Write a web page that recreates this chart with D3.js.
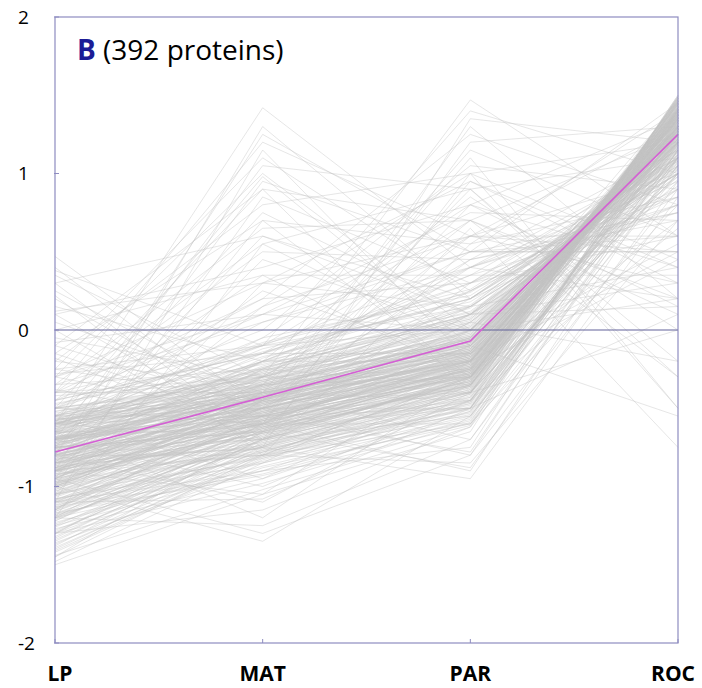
<!DOCTYPE html>
<html>
<head>
<meta charset="utf-8">
<script src="https://cdn.jsdelivr.net/npm/d3@7"></script>
<style>
  html, body { margin: 0; padding: 0; background: #ffffff; }
  svg { display: block; }
</style>
</head>
<body>
<div id="chart"></div>
<script>
// ---- data ----
const categories = ["LP", "MAT", "PAR", "ROC"];
const yTicks = [-2, -1, 0, 1, 2];
const titleLetter = "B";
const titleText = " (392 proteins)";
// mean profile (magenta)
const meanProfile = [-0.78, -0.43, -0.07, 1.25];
// individual protein profiles: [LP, MAT, PAR, ROC]
const profiles = [
[-.62,-.41,-.12,1.31],[-.85,-.52,-.2,1.38],[-1.1,-.63,-.31,1.42],[-.74,-.35,-.05,1.27],[-.55,-.3,.02,1.22],
[-.93,-.58,-.25,1.4],[-1.32,-.72,-.38,1.45],[-.68,-.44,-.15,1.35],[-.81,-.39,-.08,1.3],[-1.02,-.55,-.22,1.44],
[-.47,-.22,.08,1.18],[-.77,-.61,-.33,1.36],[-1.21,-.66,-.27,1.47],[-.59,-.48,-.18,1.25],[-.88,-.43,-.1,1.33],
[-1.45,-.8,-.42,1.49],[-.71,-.37,0,1.21],[-.96,-.5,-.17,1.39],[-.64,-.27,.05,1.15],[-1.15,-.7,-.35,1.43],
[-.83,-.46,-.28,1.41],[-.52,-.36,-.09,1.2],[-1.05,-.59,-.14,1.37],[-.79,-.53,-.24,1.34],[-.69,-.31,-.02,1.24],
[-1.28,-.75,-.4,1.48],[-.9,-.47,-.19,1.32],[-.6,-.4,-.16,1.28],[-1.38,-.69,-.3,1.46],[-.75,-.56,-.29,1.37],
[-.98,-.62,-.23,1.4],[-.57,-.25,.1,1.12],[-.86,-.34,-.07,1.26],[-1.18,-.64,-.33,1.44],[-.72,-.49,-.13,1.29],
[-.95,-.45,-.11,1.35],[-.66,-.58,-.36,1.33],[-1.24,-.77,-.44,1.47],[-.8,-.42,-.04,1.23],[-1.0,-.52,-.26,1.42],
[-.5,-.33,-.06,1.16],[-.92,-.68,-.32,1.41],[-1.12,-.57,-.21,1.38],[-.73,-.38,-.1,1.27],[-.61,-.45,-.2,1.3],
[-1.42,-.83,-.47,1.5],[-.84,-.51,-.15,1.34],[-.99,-.44,-.09,1.29],[-.7,-.6,-.27,1.36],[-1.08,-.71,-.37,1.45],
[-.78,-.29,.03,1.19],[-.89,-.55,-.3,1.39],[-1.3,-.65,-.24,1.43],[-.63,-.36,-.14,1.26],[-.97,-.48,-.18,1.37],
[-.54,-.42,-.22,1.24],[-1.19,-.78,-.41,1.46],[-.82,-.4,-.06,1.28],[-1.04,-.61,-.29,1.41],[-.67,-.32,-.01,1.2],
[-.87,-.54,-.25,1.35],[-1.35,-.74,-.36,1.48],[-.76,-.47,-.17,1.32],[-.58,-.26,.06,1.14],[-.94,-.63,-.34,1.4],
[-1.14,-.56,-.2,1.39],[-.7,-.43,-.11,1.28],[-.91,-.37,-.03,1.25],[-1.25,-.68,-.31,1.45],[-.65,-.5,-.23,1.3],
[-.81,-.59,-.28,1.37],[-1.01,-.46,-.12,1.34],[-.56,-.35,-.08,1.19],[-1.48,-.85,-.5,1.49],[-.74,-.41,-.16,1.3],
[-.88,-.64,-.37,1.38],[-1.09,-.53,-.19,1.4],[-.6,-.28,.04,1.17],[-.85,-.45,-.14,1.31],[-1.2,-.73,-.39,1.46],
[-.69,-.55,-.26,1.33],[-.95,-.41,-.07,1.27],[-1.06,-.67,-.32,1.43],[-.77,-.33,-.02,1.22],[-.53,-.39,-.13,1.21],
[-1.33,-.7,-.34,1.47],[-.83,-.57,-.21,1.36],[-.98,-.49,-.24,1.38],[-.66,-.46,-.19,1.29],[-1.16,-.62,-.28,1.42],
[-.9,-.36,-.05,1.26],[-.72,-.52,-.3,1.34],[-1.4,-.79,-.45,1.49],[-.62,-.3,-.04,1.18],[-1.03,-.58,-.2,1.41],
[-.8,-.44,-.12,1.3],[-.93,-.66,-.35,1.39],[-1.22,-.6,-.25,1.44],[-.57,-.43,-.17,1.23],[-.86,-.5,-.22,1.35],
[-.75,-.7,-.55,1.1],[-.92,-.8,-.6,1.05],[-.6,-.2,.25,1.0],[-.45,-.15,.3,1.08],[-1.1,-.9,-.58,1.15],
[-.68,-.62,-.5,1.22],[-.84,-.18,.2,1.12],[-1.27,-.95,-.52,1.3],[-.5,-.1,.15,.98],[-.97,-.75,-.48,1.18],
[-.73,-.23,.12,1.04],[-1.18,-.85,-.55,1.25],[-.58,-.05,.22,1.06],[-.88,-.72,-.45,1.2],[-1.36,-.88,-.6,1.35],
[-.66,-.12,.18,1.02],[-1.0,-.78,-.53,1.28],[-.79,-.2,.09,1.09],[-1.13,-.92,-.57,1.33],[-.55,-.08,.26,1.1],
[-.9,-.66,-.46,1.14],[-1.44,-1.02,-.62,1.4],[-.7,-.27,.14,1.16],[-1.05,-.82,-.49,1.26],[-.63,-.17,.11,1.07],
[-.82,-.76,-.51,1.17],[-1.23,-.87,-.56,1.32],[-.48,-.14,.2,1.03],[-.95,-.69,-.43,1.21],[-1.3,-.98,-.59,1.37],
[-.76,-.24,.07,1.11],[-1.08,-.81,-.54,1.23],[-.61,-.09,.24,1.05],[-.87,-.74,-.47,1.19],[-1.17,-.93,-.61,1.29],
[-.67,-.21,.16,1.13],[-.99,-.77,-.5,1.24],[-1.5,-1.05,-.65,1.42],[-.74,-.26,.1,1.08],[-1.12,-.84,-.52,1.27],
[-.8,-1.1,-.4,1.2],[-1.0,-1.35,-.55,1.1],[-.65,-1.2,-.3,1.3],[-1.2,-1.25,-.7,1.15],[-.9,-1.05,-.2,1.35],
[-.55,-.95,-.35,1.25],[-1.3,-1.15,-.62,1.0],[-.7,-1.0,-.45,1.4],[-.95,-1.3,-.8,.9],[-1.1,-1.08,-.5,1.28],
[-.85,-.6,-.9,1.1],[-1.05,-.75,-.95,.85],[-.7,-.5,-.8,1.2],[-.9,-.8,-.85,.7],[-1.25,-.9,-.75,1.3],
[-.6,-.4,-.7,1.05],[-.75,-.65,-.88,.95],[-1.15,-.55,-.78,1.15],
[.47,-.5,-.2,1.2],[.4,-.6,-.1,1.1],[.35,-.3,.1,.9],[.3,-.7,-.3,1.3],[.25,-.45,-.4,1.0],
[.2,-.55,0,1.25],[.15,-.2,.3,.8],[.1,-.65,-.25,1.35],[.05,-.4,-.15,1.15],[0,-.75,-.35,1.4],
[-.05,-.3,.05,1.05],[-.1,-.5,-.2,1.3],[-.15,-.6,-.45,1.2],[-.2,-.35,-.1,1.1],[-.25,-.45,-.05,1.35],
[-.3,-.55,-.3,1.25],[-.35,-.25,.15,1.0],[-.4,-.4,-.2,1.3],[.12,.3,.6,.5],[.38,-.1,.4,.2],
[-.08,.1,.5,.75],[.22,-.8,-.5,1.45],[-.18,-.7,-.4,1.38],[-.28,-.15,.2,1.05],[-.38,-.62,-.28,1.33],
[-.42,-.32,-.08,1.22],
[-.6,1.42,.4,.8],[-.9,1.3,.2,1.1],[-.4,1.2,.6,.3],[-1.1,1.15,-.2,1.3],[-.7,1.05,.9,-.3],
[-.3,1.0,0,1.2],[-.8,.95,.5,.6],[-.5,.9,-.4,1.4],[-1.0,.85,.3,.9],[-.2,.8,1.0,-.5],
[-.65,.75,.1,1.25],[-.95,.7,-.3,1.35],[-.35,.65,.7,.1],[-.75,.6,.2,1.0],[-1.2,.55,-.1,1.4],
[-.45,.5,.45,.7],[-.85,.45,0,1.3],[.1,.4,.8,.4],[-.55,.35,.35,1.1],[-1.05,.3,.15,1.2],
[-.25,1.1,.25,1.0],[-.6,.98,-.1,1.45],[-.15,.7,.55,.85],[-.8,1.25,.5,.5],[-.4,.55,.9,-.2],
[-.7,.25,-.2,1.38],[-.5,.2,.3,1.15],[-.9,.15,.6,.6],[-.3,.1,0,1.3],[-.65,.05,.4,.95],
[0,.35,-.3,1.25],[.3,.6,.1,1.1],[-.1,.9,.7,.2],
[-.8,-.3,1.47,.6],[-.6,-.1,1.4,1.0],[-1.0,-.5,1.3,.2],[-.4,.2,1.25,.8],[-.9,-.6,1.2,1.3],
[-.7,-.4,1.1,-.5],[-.5,0,1.05,.9],[-1.2,-.7,1.0,1.2],[-.3,.3,.95,.4],[-.85,-.45,.9,1.1],
[-.65,-.2,.85,0],[-1.1,-.55,.8,1.35],[-.45,.1,.75,.7],[-.75,-.35,.7,1.25],[-.95,-.65,.65,-.75],
[-.55,-.15,.6,1.0],[-1.3,-.8,.55,1.4],[-.35,.05,.5,.5],[-.8,-.5,.45,1.15],[-.6,-.25,.4,.85],
[-1.05,-.6,.95,.3],[-.5,-.35,1.15,.6],[-.7,-.05,.8,.15],[-.9,-.4,.6,1.3],[-.25,-.1,.7,-.3],
[-.85,-.75,1.35,1.2],[-.4,-.3,.5,1.45],[-1.15,-.45,.4,1.1],[-.6,.15,1.0,.45],[-.75,-.2,.35,.75],
[-.7,-.4,-.2,.5],[-.9,-.6,.1,.3],[-.5,-.3,-.4,0],[-1.0,-.5,.2,.8],[-.6,-.2,-.1,-.55],
[-.8,-.7,.3,.6],[-.4,-.1,0,.2],[-1.1,-.8,-.3,.7],[-.65,-.35,.15,.4],[-.85,-.55,-.5,.1],
[-.55,-.45,.25,.85],[-.95,-.25,-.15,.55],[-.75,-.65,.05,-.2],[-1.2,-.9,-.45,.65],[-.45,-.15,.35,.35],
[-.7,-.5,-.05,.9],[-.9,-.3,.45,.75],[-.6,-.55,-.25,.45],[-1.05,-.4,.1,.15],[-.5,-.6,-.6,.8],
[-.78,-.48,-.16,1.33],[-.91,-.53,-.27,1.4],[-.64,-.38,-.1,1.26],[-1.07,-.6,-.24,1.42],[-.73,-.42,-.08,1.29],
[-.86,-.57,-.31,1.37],[-1.19,-.67,-.33,1.45],[-.58,-.32,-.03,1.21],[-.99,-.51,-.18,1.36],[-.82,-.46,-.2,1.32],
[-1.26,-.71,-.36,1.47],[-.69,-.4,-.13,1.27],[-.94,-.55,-.26,1.39],[-.61,-.34,-.06,1.23],[-1.11,-.63,-.29,1.43],
[-.8,-.5,-.21,1.34],[-1.34,-.76,-.41,1.48],[-.71,-.44,-.14,1.3],[-.97,-.59,-.3,1.41],[-.55,-.29,0,1.19],
[-.88,-.48,-.17,1.35],[-1.03,-.65,-.34,1.44],[-.76,-.39,-.09,1.28],[-1.16,-.69,-.32,1.46],[-.63,-.47,-.23,1.31],
[-.92,-.42,-.11,1.33],[-.68,-.53,-.28,1.34],[-1.39,-.81,-.43,1.49],[-.84,-.35,-.04,1.25],[-1.01,-.54,-.21,1.4],
[-.59,-.37,-.12,1.24],[-.79,-.58,-.33,1.37],[-1.22,-.64,-.26,1.44],[-.74,-.45,-.15,1.31],[-.96,-.62,-.36,1.4],
[-.52,-.28,.02,1.17],[-.87,-.41,-.07,1.29],[-1.09,-.73,-.38,1.46],[-.66,-.51,-.24,1.32],[-.89,-.6,-.27,1.38],
[-1.29,-.7,-.31,1.47],[-.7,-.33,-.01,1.22],[-1.02,-.5,-.16,1.37],[-.81,-.56,-.29,1.36],[-.6,-.44,-.19,1.27],
[-1.14,-.61,-.23,1.42],[-.77,-.36,-.05,1.25],[-.93,-.52,-.2,1.36],[-1.41,-.82,-.46,1.5],[-.65,-.42,-.14,1.28],
[-.85,-.63,-.35,1.39],[-1.06,-.57,-.22,1.41],[-.72,-.3,.01,1.2],[-.98,-.47,-.13,1.34],[-.57,-.5,-.26,1.29],
[-1.17,-.74,-.4,1.46],[-.83,-.38,-.06,1.27],[-.9,-.66,-.3,1.38],[-.62,-.24,.07,1.16],[-1.13,-.58,-.19,1.41],
[-.8,-.54,-.25,1.35],[-1.37,-.78,-.39,1.48],[-.69,-.46,-.18,1.3],
[-.7,-.55,-.4,1.0],[-.95,-.35,-.3,.95],[-.5,-.5,-.5,1.1],[-1.2,-.45,0,1.15],[-.85,-.25,-.35,1.05],
[-.6,-.7,-.15,.98],[-1.0,-.4,-.45,1.12],[-.75,-.6,.05,1.08],[-.9,-.2,-.2,1.0],[-1.3,-.6,-.1,1.2],
[-.55,-.55,.1,.92],[-.8,-.8,-.3,1.1],[-1.15,-.3,-.25,1.18],[-.65,-.65,-.4,1.03],[-.98,-.75,0,.96],
[-.72,-.15,-.15,1.14],[-1.45,-.65,-.35,1.25],[-.88,-.5,.15,1.0],[-.58,-.38,-.3,1.07],[-1.08,-.85,-.2,1.12]
];

// ---- layout ----
const W = 702, H = 688;
const plot = { left: 55, top: 17, right: 678, bottom: 643 };

const svg = d3.select("#chart").append("svg")
  .attr("width", W).attr("height", H);

const x = d3.scalePoint().domain(categories).range([plot.left, plot.right]);
const y = d3.scaleLinear().domain([-2, 2]).range([plot.bottom, plot.top]);

const line = d3.line()
  .x((d, i) => x(categories[i]))
  .y(d => y(d));

// profiles
svg.append("g").attr("class", "profiles")
  .selectAll("path").data(profiles).join("path")
  .attr("d", line)
  .attr("fill", "none")
  .attr("stroke", "#c4c4c4")
  .attr("stroke-opacity", 0.42)
  .attr("stroke-width", 1);

// zero line
svg.append("line")
  .attr("x1", plot.left).attr("x2", plot.right)
  .attr("y1", y(0)).attr("y2", y(0))
  .attr("stroke", "#62629a").attr("stroke-width", 1.2);

// mean line
svg.append("path").datum(meanProfile)
  .attr("d", line)
  .attr("fill", "none")
  .attr("stroke", "#d45fd4")
  .attr("stroke-width", 1.6);

// frame
svg.append("rect")
  .attr("x", plot.left).attr("y", plot.top)
  .attr("width", plot.right - plot.left).attr("height", plot.bottom - plot.top)
  .attr("fill", "none").attr("stroke", "#8e8cc0").attr("stroke-width", 1.2);

// y ticks (inward, small)
svg.append("g").selectAll("line").data(yTicks).join("line")
  .attr("x1", plot.left - 1).attr("x2", plot.left + 4)
  .attr("y1", d => y(d)).attr("y2", d => y(d))
  .attr("stroke", "#8e8cc0").attr("stroke-width", 1);

// x ticks (inward, small)
svg.append("g").selectAll("line").data(categories).join("line")
  .attr("x1", d => x(d)).attr("x2", d => x(d))
  .attr("y1", plot.bottom).attr("y2", plot.bottom - 4)
  .attr("stroke", "#8e8cc0").attr("stroke-width", 1);

// y tick labels
svg.append("g").selectAll("text").data(yTicks).join("text")
  .attr("x", 18).attr("y", d => y(d))
  .attr("dy", "0.36em")
  .attr("font-family", "'Open Sans', sans-serif")
  .attr("font-size", 19)
  .attr("fill", "#000")
  .text(d => d);

// x labels
svg.append("g").selectAll("text").data(categories).join("text")
  .attr("x", d => x(d) + (d === "LP" ? 5 : d === "ROC" ? -5 : 0))
  .attr("y", 681)
  .attr("text-anchor", "middle")
  .attr("font-family", "'Open Sans', sans-serif")
  .attr("font-weight", "bold")
  .attr("font-size", 21)
  .attr("fill", "#000")
  .text(d => d);

// title
const t = svg.append("text")
  .attr("x", 77).attr("y", 60)
  .attr("font-family", "'Open Sans', sans-serif")
  .attr("font-size", 28)
  .attr("fill", "#000");
t.append("tspan").attr("font-weight", "bold").attr("fill", "#1c1c96").text(titleLetter);
t.append("tspan").text(titleText);
</script>
</body>
</html>
